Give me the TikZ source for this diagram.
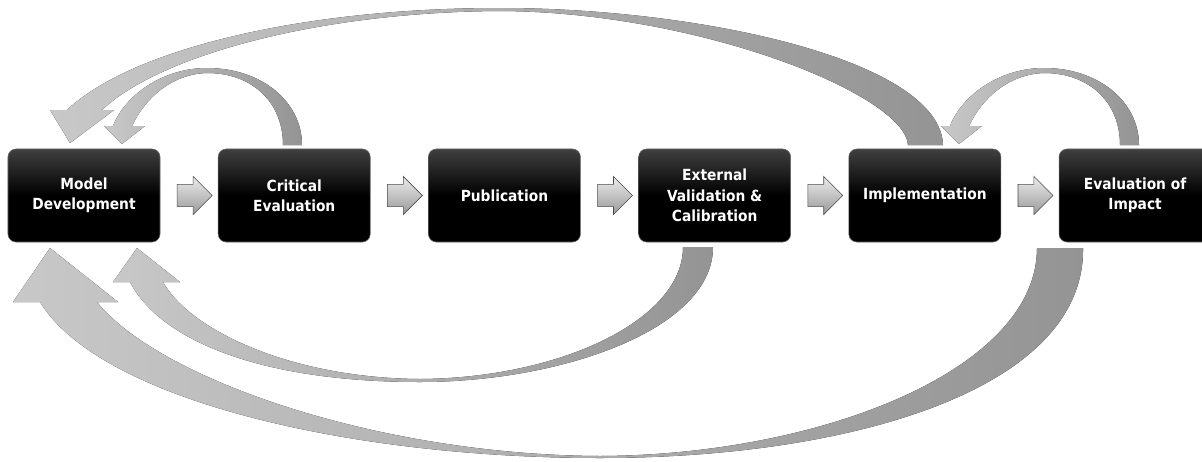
\documentclass[tikz,border=0pt]{standalone}
\usepackage{fontspec}
\usepackage{tikz}
\usetikzlibrary{positioning,shapes.arrows}
\newfontfamily\boxfont{DejaVu Sans Condensed}
\definecolor{arrlite}{RGB}{200,200,200}
\definecolor{arrdark}{RGB}{148,148,148}

\begin{document}
\begin{tikzpicture}[x=0.025cm,y=-0.025cm,
  stage/.style={rounded corners=0.2cm,minimum width=3.8cm,minimum height=2.325cm,
    top color=black!75,bottom color=black,middle color=black,draw=black!60,
    text=white,align=center,font=\boxfont\bfseries\fontsize{10.9}{14.4}\selectfont},
  fwd/.style={single arrow,draw=black!70,top color=gray!15,bottom color=gray!80,
    minimum height=0.875cm,single arrow head extend=0.2cm,
    inner xsep=0pt,inner ysep=0.27cm},
  ribbon/.style={left color=arrlite,right color=arrdark}]
\useasboundingbox (0,0) rectangle (1202,461);

% feedback ribbons, back to front
\fill[ribbon] (943,145) .. controls (940,60) and (700,8) .. (500,8)
  .. controls (300,8) and (130,50) .. (67,110) -- (50,110) -- (70,143) -- (114,110) -- (102,110)
  .. controls (160,55) and (320,12) .. (500,11) .. controls (700,12) and (905,95) .. (908,145) -- cycle;
\fill[ribbon] (302,145) .. controls (302,102) and (262,68) .. (207,68)
  .. controls (163,68) and (125,95) .. (113,126) -- (104,126) -- (122,144) -- (145,126) -- (132,126)
  .. controls (145,98) and (172,74) .. (207,73) .. controls (252,73) and (283,102) .. (283,145) -- cycle;
\begin{scope}[shift={(837,0)}]
\fill[ribbon] (302,145) .. controls (302,102) and (262,68) .. (207,68)
  .. controls (163,68) and (125,95) .. (113,126) -- (104,126) -- (122,144) -- (145,126) -- (132,126)
  .. controls (145,98) and (172,74) .. (207,73) .. controls (252,73) and (283,102) .. (283,145) -- cycle;
\end{scope}
\fill[ribbon] (1083,248) .. controls (1085,390) and (850,458) .. (600,458)
  .. controls (350,458) and (100,400) .. (40,302) -- (13,302) -- (50,248) -- (118,302) -- (97,302)
  .. controls (160,380) and (380,455) .. (600,456) .. controls (820,455) and (1037,370) .. (1037,248) -- cycle;
\fill[ribbon] (713,247) .. controls (713,330) and (560,382) .. (420,382)
  .. controls (260,382) and (160,340) .. (130,282) -- (113,282) -- (137,248) -- (180,282) -- (163,282)
  .. controls (190,330) and (290,378) .. (420,379) .. controls (560,378) and (683,320) .. (683,247) -- cycle;

% stages
\node[stage] (md) at (84,195.5) {Model\\Development};
\node[stage,right=1.44cm of md] (ce) {Critical\\Evaluation};
\node[stage,right=1.44cm of ce] (pub) {Publication};
\node[stage,right=1.44cm of pub] (evc) {External\\Validation \&\\Calibration};
\node[stage,right=1.44cm of evc] (impl) {Implementation};
\node[stage,right=1.44cm of impl] (eoi) {Evaluation of\\Impact};

\path (md) -- (ce) node[midway,fwd] (s1) {};
\path (ce) -- (pub) node[midway,fwd] (s2) {};
\path (pub) -- (evc) node[midway,fwd] (s3) {};
\path (evc) -- (impl) node[midway,fwd] (s4) {};
\path (impl) -- (eoi) node[midway,fwd] (s5) {};
\end{tikzpicture}
\end{document}
